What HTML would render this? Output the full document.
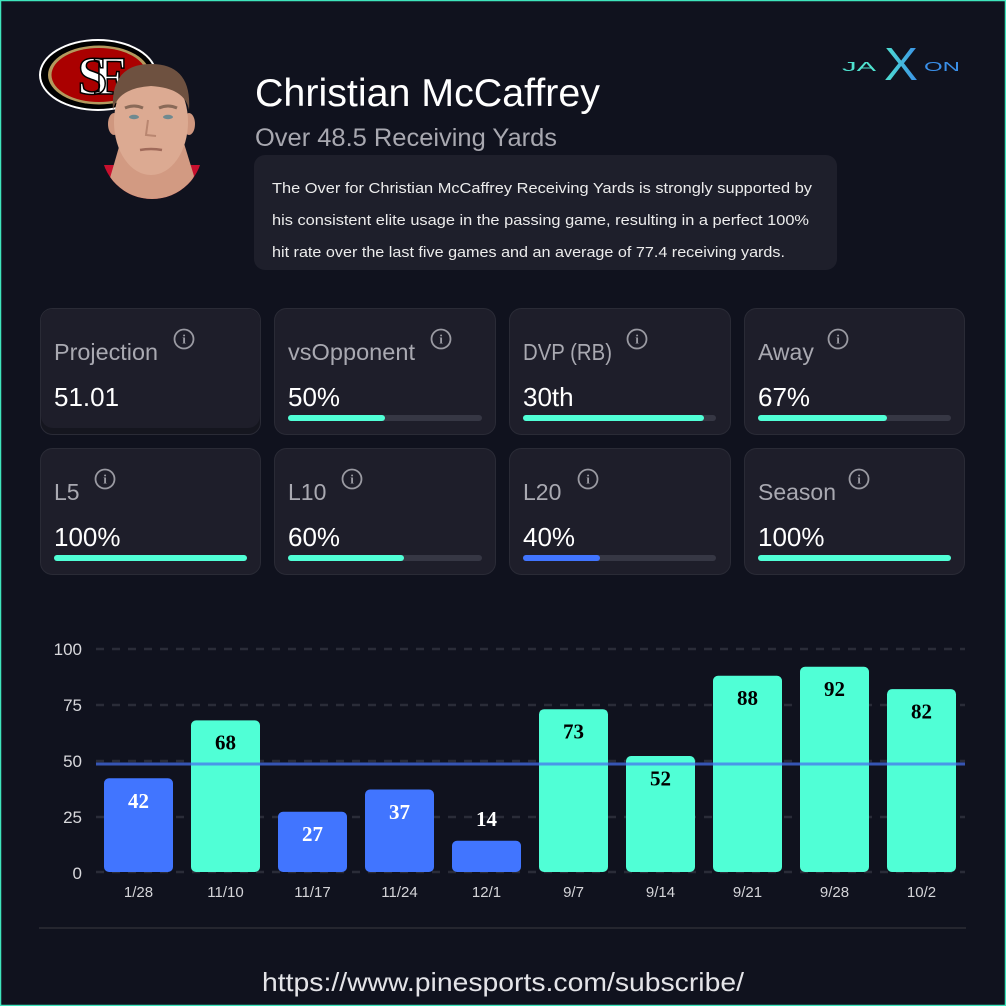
<!DOCTYPE html>
<html><head><meta charset="utf-8"><style>
html,body{margin:0;padding:0;background:#10121e;}
svg{display:block;}
.sans{font-family:"Liberation Sans",sans-serif;}
.serif{font-family:"Liberation Serif",serif;}
</style></head><body>
<svg width="1006" height="1006" viewBox="0 0 1006 1006" xmlns="http://www.w3.org/2000/svg" font-family="Liberation Sans, sans-serif">
<defs>
<linearGradient id="jx" x1="0" y1="0" x2="1" y2="0"><stop offset="0" stop-color="#4fe3d0"/><stop offset="1" stop-color="#3a8fe8"/></linearGradient>
<clipPath id="pc"><rect x="90" y="40" width="125" height="109"/><circle cx="152" cy="148" r="51"/></clipPath>
</defs>
<rect x="0" y="0" width="1006" height="1006" fill="#10121e"/>
<rect x="0.5" y="0.5" width="1005" height="1005" fill="none" stroke="#3ee6bd" stroke-width="1.5"/>

<!-- 49ers logo -->
<ellipse cx="98" cy="75" rx="59" ry="36" fill="#ffffff"/>
<ellipse cx="98" cy="75" rx="57" ry="34" fill="#000000"/>
<ellipse cx="99" cy="75" rx="51" ry="29.5" fill="#b3995d"/>
<ellipse cx="99" cy="75" rx="47.5" ry="27" fill="#aa0000"/>
<text class="serif" x="95" y="94" text-anchor="middle" font-weight="bold" font-size="54" fill="#ffffff" stroke="#000" stroke-width="1.5" letter-spacing="-14">SF</text>

<!-- player photo -->
<g clip-path="url(#pc)">
<rect x="95" y="165" width="120" height="45" fill="#c8102e"/>
<polygon points="121,140 183,140 194,176 182,205 122,205 110,178" fill="#d29a82"/>
<ellipse cx="114" cy="124" rx="6" ry="11" fill="#cf977f"/>
<ellipse cx="189" cy="124" rx="6" ry="11" fill="#cf977f"/>
<ellipse cx="151" cy="122" rx="37" ry="53" fill="#dcaa92"/>
<path d="M113 110 Q110 64 151 64 Q192 64 189 110 Q185 88 151 86 Q118 88 113 110 Z" fill="#6e5140"/>
<path d="M125 108 Q134 104 143 108" stroke="#8a6a58" stroke-width="3" fill="none"/>
<path d="M159 108 Q168 104 177 108" stroke="#8a6a58" stroke-width="3" fill="none"/>
<ellipse cx="134" cy="117" rx="5" ry="2.2" fill="#6f8a90"/>
<ellipse cx="168" cy="117" rx="5" ry="2.2" fill="#6f8a90"/>
<path d="M148 120 L146 135 L156 136" stroke="#b98670" stroke-width="2" fill="none"/>
<path d="M140 150 Q151 148 162 150" stroke="#a06a5a" stroke-width="2.5" fill="none"/>
</g>

<!-- title -->
<text x="255" y="106" font-size="39" fill="#ffffff" textLength="345" lengthAdjust="spacingAndGlyphs">Christian McCaffrey</text>
<text x="255" y="146" font-size="25" fill="#a8a8b0" textLength="302" lengthAdjust="spacingAndGlyphs">Over 48.5 Receiving Yards</text>

<!-- jaxon logo -->
<text x="842" y="71" font-size="13" fill="#4fe3d0" textLength="34" lengthAdjust="spacingAndGlyphs">JA</text>
<text x="901" y="80" text-anchor="middle" font-size="46" fill="url(#jx)" textLength="34" lengthAdjust="spacingAndGlyphs">X</text>
<text x="924" y="71" font-size="13" fill="#3a8fe8" textLength="36" lengthAdjust="spacingAndGlyphs">ON</text>

<!-- description -->
<rect x="254" y="155" width="583" height="115" rx="11" fill="#1e1f2b"/>
<text x="272" y="193" font-size="15" fill="#ececec" textLength="540" lengthAdjust="spacingAndGlyphs">The Over for Christian McCaffrey Receiving Yards is strongly supported by</text>
<text x="272" y="225" font-size="15" fill="#ececec" textLength="537" lengthAdjust="spacingAndGlyphs">his consistent elite usage in the passing game, resulting in a perfect 100%</text>
<text x="272" y="257" font-size="15" fill="#ececec" textLength="513" lengthAdjust="spacingAndGlyphs">hit rate over the last five games and an average of 77.4 receiving yards.</text>

<!-- cards -->
<g>
<rect x="40.5" y="308.5" width="220" height="126" rx="12" fill="#15161f" stroke="#2a2b36"/>
<rect x="41" y="309" width="219" height="119" rx="12" fill="#1e1e2a"/>
<rect x="274.5" y="308.5" width="221" height="126" rx="12" fill="#1e1e2a" stroke="#2a2b36"/>
<rect x="509.5" y="308.5" width="221" height="126" rx="12" fill="#1e1e2a" stroke="#2a2b36"/>
<rect x="744.5" y="308.5" width="220" height="126" rx="12" fill="#1e1e2a" stroke="#2a2b36"/>
<rect x="40.5" y="448.5" width="220" height="126" rx="12" fill="#1e1e2a" stroke="#2a2b36"/>
<rect x="274.5" y="448.5" width="221" height="126" rx="12" fill="#1e1e2a" stroke="#2a2b36"/>
<rect x="509.5" y="448.5" width="221" height="126" rx="12" fill="#1e1e2a" stroke="#2a2b36"/>
<rect x="744.5" y="448.5" width="220" height="126" rx="12" fill="#1e1e2a" stroke="#2a2b36"/>
</g>
<g font-size="23" fill="#a9a9b1">
<text x="54" y="360" textLength="104" lengthAdjust="spacingAndGlyphs">Projection</text>
<text x="288" y="360" textLength="127" lengthAdjust="spacingAndGlyphs">vsOpponent</text>
<text x="523" y="360" textLength="89" lengthAdjust="spacingAndGlyphs">DVP (RB)</text>
<text x="758" y="360">Away</text>
<text x="54" y="500">L5</text>
<text x="288" y="500">L10</text>
<text x="523" y="500">L20</text>
<text x="758" y="500">Season</text>
</g>
<g font-size="26" fill="#ffffff">
<text x="54" y="406">51.01</text>
<text x="288" y="406">50%</text>
<text x="523" y="406">30th</text>
<text x="758" y="406">67%</text>
<text x="54" y="546">100%</text>
<text x="288" y="546">60%</text>
<text x="523" y="546">40%</text>
<text x="758" y="546">100%</text>
</g>
<!-- info icons -->
<g fill="none" stroke="#9a9aa2" stroke-width="1.8">
<circle cx="184" cy="339" r="9.5"/><circle cx="441" cy="339" r="9.5"/><circle cx="637" cy="339" r="9.5"/><circle cx="838" cy="339" r="9.5"/>
<circle cx="105" cy="479" r="9.5"/><circle cx="352" cy="479" r="9.5"/><circle cx="588" cy="479" r="9.5"/><circle cx="859" cy="479" r="9.5"/>
</g>
<g class="serif" font-size="13" font-weight="bold" fill="#9a9aa2" text-anchor="middle">
<text x="184" y="343.5">i</text><text x="441" y="343.5">i</text><text x="637" y="343.5">i</text><text x="838" y="343.5">i</text>
<text x="105" y="483.5">i</text><text x="352" y="483.5">i</text><text x="588" y="483.5">i</text><text x="859" y="483.5">i</text>
</g>
<!-- progress bars -->
<g fill="#363744">
<rect x="288" y="415" width="194" height="6" rx="3"/>
<rect x="523" y="415" width="193" height="6" rx="3"/>
<rect x="758" y="415" width="193" height="6" rx="3"/>
<rect x="54" y="555" width="193" height="6" rx="3"/>
<rect x="288" y="555" width="194" height="6" rx="3"/>
<rect x="523" y="555" width="193" height="6" rx="3"/>
<rect x="758" y="555" width="193" height="6" rx="3"/>
</g>
<g fill="#50ffd6">
<rect x="288" y="415" width="97" height="6" rx="3"/>
<rect x="523" y="415" width="181" height="6" rx="3"/>
<rect x="758" y="415" width="129" height="6" rx="3"/>
<rect x="54" y="555" width="193" height="6" rx="3"/>
<rect x="288" y="555" width="116" height="6" rx="3"/>
<rect x="758" y="555" width="193" height="6" rx="3"/>
</g>
<rect x="523" y="555" width="77" height="6" rx="3" fill="#4175ff"/>

<!-- chart grid -->
<g stroke="#2a2c38" stroke-width="2.5" stroke-dasharray="8 8">
<line x1="96" y1="649" x2="965" y2="649"/>
<line x1="96" y1="705" x2="965" y2="705"/>
<line x1="96" y1="761" x2="965" y2="761"/>
<line x1="96" y1="817" x2="965" y2="817"/>
<line x1="96" y1="872" x2="965" y2="872"/>
</g>
<g font-size="17" fill="#d8d8dc" text-anchor="end">
<text x="82" y="655">100</text>
<text x="82" y="711">75</text>
<text x="82" y="767">50</text>
<text x="82" y="823">25</text>
<text x="82" y="879">0</text>
</g>
<!-- bars -->
<g>
<rect x="104" y="778.3" width="69" height="93.7" rx="5" fill="#4175ff"/>
<rect x="191" y="720.4" width="69" height="151.6" rx="5" fill="#50ffd6"/>
<rect x="278" y="811.8" width="69" height="60.2" rx="5" fill="#4175ff"/>
<rect x="365" y="789.5" width="69" height="82.5" rx="5" fill="#4175ff"/>
<rect x="452" y="840.8" width="69" height="31.2" rx="5" fill="#4175ff"/>
<rect x="539" y="709.2" width="69" height="162.8" rx="5" fill="#50ffd6"/>
<rect x="626" y="756.0" width="69" height="116.0" rx="5" fill="#50ffd6"/>
<rect x="713" y="675.8" width="69" height="196.2" rx="5" fill="#50ffd6"/>
<rect x="800" y="666.8" width="69" height="205.2" rx="5" fill="#50ffd6"/>
<rect x="887" y="689.1" width="69" height="182.9" rx="5" fill="#50ffd6"/>
</g>
<line x1="96" y1="764" x2="965" y2="764" stroke="rgba(69,111,239,0.72)" stroke-width="3"/>
<g class="serif" font-size="21" font-weight="bold" text-anchor="middle">
<text x="138.5" y="808" fill="#ffffff">42</text>
<text x="225.5" y="749.5" fill="#000000">68</text>
<text x="312.5" y="841" fill="#ffffff">27</text>
<text x="399.5" y="819" fill="#ffffff">37</text>
<text x="486.5" y="826" fill="#ffffff">14</text>
<text x="573.5" y="738.5" fill="#000000">73</text>
<text x="660.5" y="785.5" fill="#000000">52</text>
<text x="747.5" y="705" fill="#000000">88</text>
<text x="834.5" y="696" fill="#000000">92</text>
<text x="921.5" y="718.5" fill="#000000">82</text>
</g>
<g font-size="15" fill="#d4d4d8" text-anchor="middle">
<text x="138.5" y="897">1/28</text>
<text x="225.5" y="897">11/10</text>
<text x="312.5" y="897">11/17</text>
<text x="399.5" y="897">11/24</text>
<text x="486.5" y="897">12/1</text>
<text x="573.5" y="897">9/7</text>
<text x="660.5" y="897">9/14</text>
<text x="747.5" y="897">9/21</text>
<text x="834.5" y="897">9/28</text>
<text x="921.5" y="897">10/2</text>
</g>

<!-- footer -->
<line x1="39" y1="928" x2="966" y2="928" stroke="#25262f" stroke-width="2"/>
<text x="262" y="991" font-size="26" fill="#e4e4e8" textLength="482" lengthAdjust="spacingAndGlyphs">https://www.pinesports.com/subscribe/</text>
</svg>
</body></html>
